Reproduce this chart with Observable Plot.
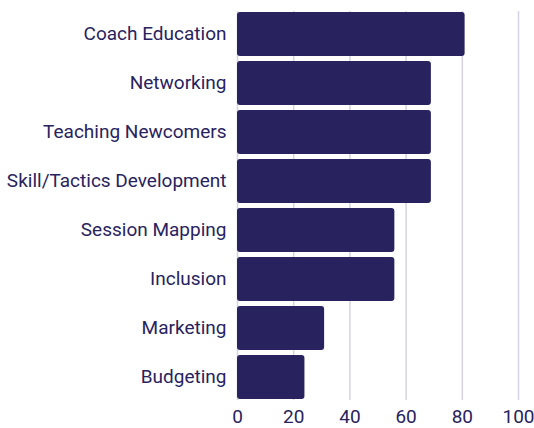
<!DOCTYPE html>
<html>
<head>
<meta charset="utf-8">
<script src="https://cdn.jsdelivr.net/npm/d3@7"></script>
<script src="https://cdn.jsdelivr.net/npm/@observablehq/plot@0.6"></script>
<style>
  html, body { margin: 0; padding: 0; background: #fff; }
  #chart svg { display: block; }
</style>
</head>
<body>
<div id="chart"></div>
<script>
const categories = ["Coach Education", "Networking", "Teaching Newcomers", "Skill/Tactics Development", "Session Mapping", "Inclusion", "Marketing", "Budgeting"];
const values = [81, 69, 69, 69, 56, 56, 31, 24];
const xTicks = [0, 20, 40, 60, 80, 100];

const data = categories.map((c, i) => ({category: c, value: values[i]}));
const ink = "#28235e";

const chart = Plot.plot({
  width: 534,
  height: 428,
  marginLeft: 237,
  marginRight: 16,
  marginTop: 11,
  marginBottom: 28,
  style: {fontFamily: "Roboto, 'DejaVu Sans', sans-serif", fontSize: "19px", fontWeight: 400, color: ink, background: "#fff"},
  x: {domain: [0, 100], ticks: xTicks, label: null},
  y: {domain: categories, paddingInner: 0.1, paddingOuter: 0, label: null},
  marks: [
    Plot.gridX(xTicks, {stroke: "#d6d4e2", strokeOpacity: 1, strokeWidth: 1.5}),
    Plot.barX(data, {x: "value", y: "category", fill: ink, rx: 3}),
    Plot.axisX({ticks: xTicks, tickSize: 0, tickPadding: 9, label: null, fontSize: 19, fill: ink}),
    Plot.axisY({tickSize: 0, tickPadding: 11, label: null, fontSize: 19, fill: ink, dy: -1})
  ]
});
document.getElementById("chart").append(chart);
</script>
</body>
</html>
